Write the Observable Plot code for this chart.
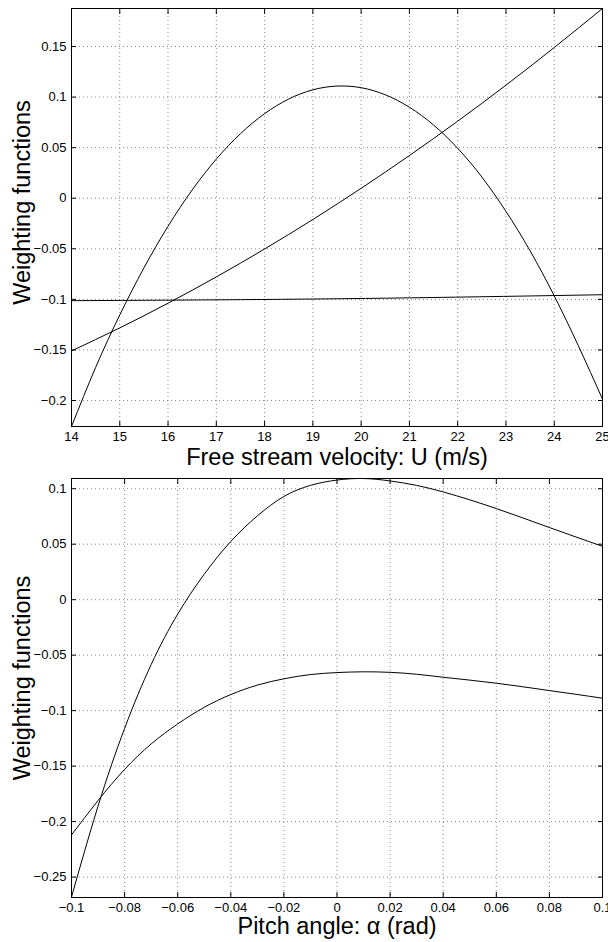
<!DOCTYPE html>
<html><head><meta charset="utf-8">
<script src="https://cdn.jsdelivr.net/npm/d3@7"></script>
<script src="https://cdn.jsdelivr.net/npm/@observablehq/plot@0.6"></script>
<style>
html,body{margin:0;padding:0;background:#fff;}
#chart{width:608px;}
#chart svg{display:block;}
</style></head><body><div id="chart"></div>
<script>
// ---------- Top panel data ----------
const velocity = [14,15,16,17,18,19,20,21,22,23,24,25];
const wRising  = [-0.151,-0.1282,-0.1038,-0.0778,-0.0502,-0.021,0.0098,0.0422,0.0762,0.1118,0.149,0.1876];
const velocityHump = [14,14.5,15,15.5,16,16.5,17,17.5,18,18.5,19,19.5,20,20.5,21,21.5,22,22.5,23,23.5,24,24.5,25];
const wHump = [-0.2257,-0.1673,-0.1154,-0.0689,-0.0277,0.0082,0.0387,0.0638,0.0836,0.0981,0.1072,0.1109,0.1093,0.1023,0.090,0.0724,0.0494,0.021,-0.013,-0.052,-0.0965,-0.1459,-0.1987];
const velocityFlat = [14,17.5,21,25];
const wFlat = [-0.1013,-0.1003,-0.0985,-0.0954];
const velocityTicks = [14,15,16,17,18,19,20,21,22,23,24,25];
const topWeightTicks = [-0.2,-0.15,-0.1,-0.05,0,0.05,0.1,0.15];

// ---------- Bottom panel data ----------
const alpha = [-0.1,-0.09,-0.08,-0.07,-0.06,-0.05,-0.04,-0.03,-0.02,-0.01,0,0.01,0.02,0.03,0.04,0.05,0.06,0.07,0.08,0.09,0.1];
const wUpper = [-0.268,-0.186,-0.116,-0.0585,-0.013,0.023,0.0525,0.0755,0.093,0.103,0.1078,0.1092,0.107,0.103,0.0971,0.090,0.0821,0.0737,0.065,0.0565,0.0481];
const wLower = [-0.212,-0.181,-0.153,-0.130,-0.112,-0.097,-0.0855,-0.077,-0.0713,-0.0675,-0.0657,-0.0650,-0.0655,-0.0672,-0.0699,-0.0725,-0.0753,-0.0785,-0.0819,-0.0853,-0.0888];
const alphaTicks = [-0.1,-0.08,-0.06,-0.04,-0.02,0,0.02,0.04,0.06,0.08,0.1];
const bottomWeightTicks = [-0.25,-0.2,-0.15,-0.1,-0.05,0,0.05,0.1];

const yTitle = "Weighting functions";
const topXTitle = "Free stream velocity: U (m/s)";
const bottomXTitle = "Pitch angle: \u03b1 (rad)";

const fmt = d => (d < 0 ? "\u2212" : "") + String(+Math.abs(d).toFixed(3));
const blank = () => "";
const FONT = "'Liberation Sans', Arial, Helvetica, sans-serif";
const gridStyle = {stroke: "#8a8a8a", strokeOpacity: 1, strokeDasharray: "1,3", strokeWidth: 1};
const lineStyle = {stroke: "black", strokeWidth: 1, curve: "natural", clip: true};

function series(xs, ys) { return xs.map((x, i) => ({x, y: ys[i]})); }

function panel({height, marginTop, marginBottom, xDomain, yDomain, xTicks, yTicks, lines, xTitle, yTitleDy, xTitleDy}) {
  return Plot.plot({
    width: 608, height, marginLeft: 71, marginRight: 6, marginTop, marginBottom,
    style: {fontFamily: FONT, fontSize: "13px", color: "black", background: "white"},
    x: {domain: xDomain, axis: null},
    y: {domain: yDomain, axis: null},
    marks: [
      Plot.gridX(xTicks, gridStyle),
      Plot.gridY(yTicks, gridStyle),
      ...lines.map(l => Plot.line(l, {x: "x", y: "y", ...lineStyle})),
      Plot.axisX(xTicks, {anchor: "bottom", tickSize: 5, dy: -5, tickFormat: blank, label: null}),
      Plot.axisX(xTicks, {anchor: "top", tickSize: 5, dy: 5, tickFormat: blank, label: null}),
      Plot.axisY(yTicks, {anchor: "left", tickSize: 5, dx: 5, tickFormat: blank, label: null}),
      Plot.axisY(yTicks, {anchor: "right", tickSize: 5, dx: -5, tickFormat: blank, label: null}),
      Plot.axisX(xTicks, {anchor: "bottom", tickSize: 0, tickPadding: 5, tickFormat: fmt, label: null}),
      Plot.axisY(yTicks, {anchor: "left", tickSize: 0, tickPadding: 5, tickFormat: fmt, label: null}),
      Plot.frame({stroke: "black", strokeWidth: 1}),
      Plot.text([xTitle], {text: d => d, frameAnchor: "bottom", dy: xTitleDy, textAnchor: "middle", lineAnchor: "middle", fontSize: 23.5, fill: "black"}),
      Plot.text([yTitle], {text: d => d, frameAnchor: "left", dx: -49, dy: yTitleDy, rotate: -90, textAnchor: "middle", lineAnchor: "middle", fontSize: 23.5, fill: "black"})
    ]
  });
}

const topPanel = panel({
  height: 470, marginTop: 8, marginBottom: 44,
  xDomain: [14, 25], yDomain: [-0.2257, 0.1876],
  xTicks: velocityTicks, yTicks: topWeightTicks,
  lines: [series(velocityFlat, wFlat), series(velocity, wRising), series(velocityHump, wHump)],
  xTitle: topXTitle, yTitleDy: -15, xTitleDy: 31
});
const bottomPanel = panel({
  height: 472, marginTop: 8, marginBottom: 45,
  xDomain: [-0.1, 0.1], yDomain: [-0.2684, 0.1092],
  xTicks: alphaTicks, yTicks: bottomWeightTicks,
  lines: [series(alpha, wUpper), series(alpha, wLower)],
  xTitle: bottomXTitle, yTitleDy: -10, xTitleDy: 29
});
document.getElementById("chart").append(topPanel, bottomPanel);
</script></body></html>
